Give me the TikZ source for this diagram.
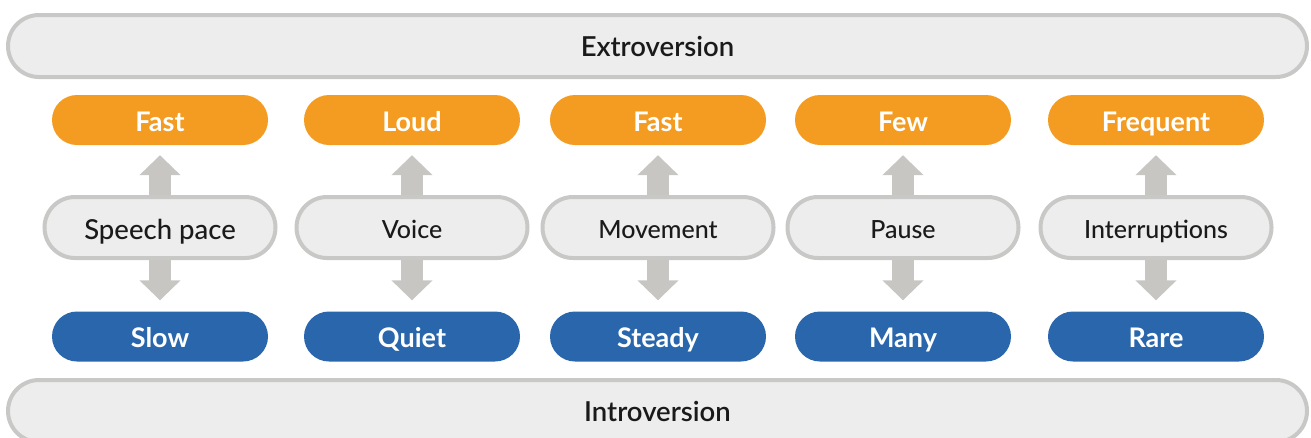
\documentclass[tikz,border=0pt]{standalone}
\usepackage{fontspec}
\setmainfont{Lato}
\newfontfamily\latosemi{Lato Semibold}
\newfontfamily\latomed{Lato Medium}
\usetikzlibrary{arrows.meta}
\definecolor{barfill}{RGB}{237,237,237}
\definecolor{barline}{RGB}{200,200,198}
\definecolor{hiorange}{RGB}{244,155,34}
\definecolor{loblue}{RGB}{41,102,172}
\definecolor{arrowgray}{RGB}{199,198,195}
\definecolor{labeltext}{RGB}{26,26,26}
\begin{document}
\begin{tikzpicture}[x=1pt,y=1pt,
    bar/.style={draw=barline,fill=barfill,line width=4pt,rounded corners=31pt,
      minimum width=1299pt,minimum height=62pt,inner sep=0pt,
      text height=21pt,text depth=0pt,
      text=labeltext,font=\latosemi\fontsize{27.5}{30}\selectfont},
    trait/.style={draw=barline,fill=barfill,line width=4pt,rounded corners=30.5pt,
      minimum width=231pt,minimum height=61pt,inner sep=0pt,
      text height=22pt,text depth=0pt,
      text=labeltext,font=\latomed\fontsize{25}{28}\selectfont},
    pole/.style={rounded corners=25pt,minimum width=216pt,minimum height=50pt,
      inner sep=0pt,text height=22pt,text depth=0pt,
      text=white,font=\bfseries\fontsize{27}{30}\selectfont},
    high/.style={pole,fill=hiorange},
    low/.style={pole,fill=loblue},
    link/.style={arrowgray,line width=22pt,-{Triangle[width=40pt,length=20pt]}}]
    \useasboundingbox (0,0) rectangle (1311,-437);
    \begin{scope}
      \node[bar] (ext) at (657.5,-46) {Extroversion};
      \node[bar] (int) at (657.5,-411) {Introversion};

      \node[high] (hi1) at (160,-120) {Fast};
      \node[high] (hi2) at (412,-120) {Loud};
      \node[high] (hi3) at (658,-120) {Fast};
      \node[high] (hi4) at (903,-120) {Few};
      \node[high] (hi5) at (1156,-120) {Frequent};

      \node[low] (lo1) at (160,-336.5) {Slow};
      \node[low] (lo2) at (412,-336.5) {Quiet};
      \node[low] (lo3) at (658,-336.5) {Steady};
      \node[low] (lo4) at (903,-336.5) {Many};
      \node[low] (lo5) at (1156,-336.5) {Rare};

      % arrows go under the trait boxes
      \coordinate (m1) at (160,-227.5);
      \coordinate (m2) at (412,-227.5);
      \coordinate (m3) at (658,-227.5);
      \coordinate (m4) at (903,-227.5);
      \coordinate (m5) at (1156,-227.5);

      \draw[link,shorten >=10pt] (m1) -- (hi1.south);
      \draw[link,shorten >=10pt] (m2) -- (hi2.south);
      \draw[link,shorten >=10pt] (m3) -- (hi3.south);
      \draw[link,shorten >=10pt] (m4) -- (hi4.south);
      \draw[link,shorten >=10pt] (m5) -- (hi5.south);

      \draw[link,shorten >=11pt] (m1) -- (lo1.north);
      \draw[link,shorten >=11pt] (m2) -- (lo2.north);
      \draw[link,shorten >=11pt] (m3) -- (lo3.north);
      \draw[link,shorten >=11pt] (m4) -- (lo4.north);
      \draw[link,shorten >=11pt] (m5) -- (lo5.north);

      \node[trait,font=\latomed\fontsize{27.5}{30}\selectfont,text height=23pt] (mid1) at (m1) {Speech pace};
      \node[trait] (mid2) at (m2) {Voice};
      \node[trait] (mid3) at (m3) {Movement};
      \node[trait] (mid4) at (m4) {Pause};
      \node[trait] (mid5) at (m5) {Interruptions};
    \end{scope}
  \end{tikzpicture}
\end{document}
